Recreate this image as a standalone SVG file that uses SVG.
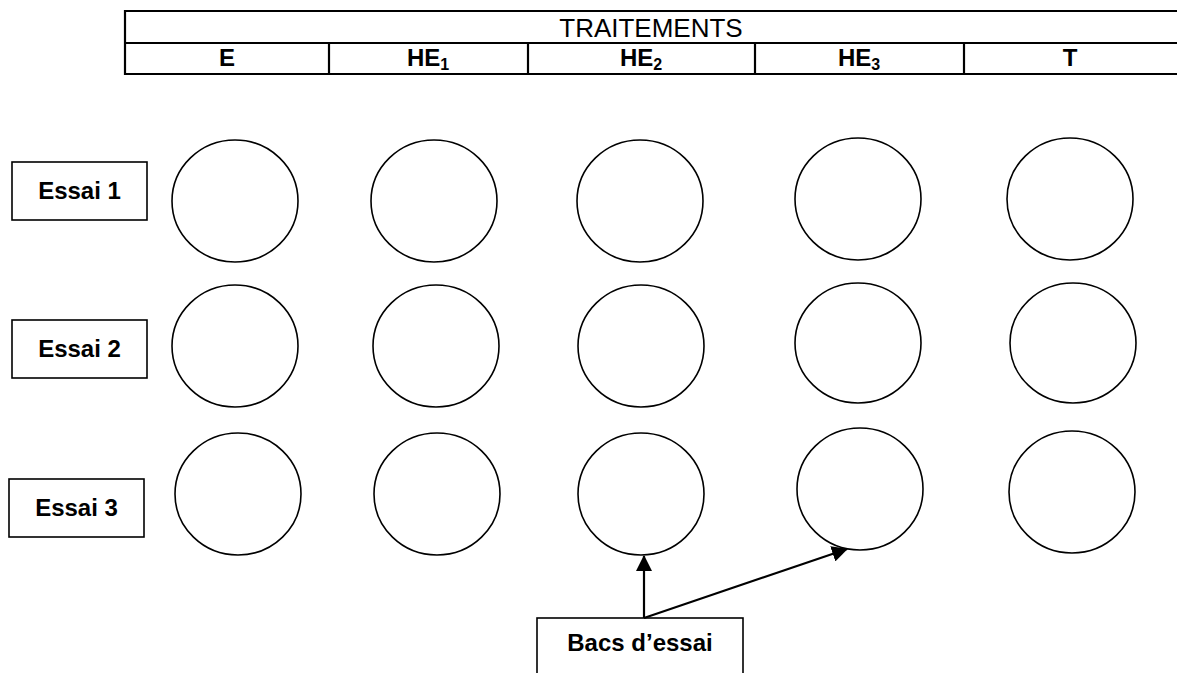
<svg xmlns="http://www.w3.org/2000/svg" width="1177" height="673" viewBox="0 0 1177 673">
<style>
text{font-family:"Liberation Sans",Arial,sans-serif;fill:#000}
.h{font-size:26px;text-anchor:middle}
.b{font-size:24px;font-weight:bold;text-anchor:middle}
.sub{font-size:16px}
.tl{stroke:#000;stroke-width:2.2;fill:none}
.c{fill:#fff;stroke:#000;stroke-width:1.6}
.bx{fill:#fff;stroke:#000;stroke-width:1.6}
.ar{stroke:#000;stroke-width:2.2;fill:none;marker-end:url(#ah)}
</style>
<defs>
<marker id="ah" markerUnits="userSpaceOnUse" markerWidth="17" markerHeight="16" refX="15" refY="8" orient="auto" viewBox="0 0 17 16">
<path d="M0,0 L16,8 L0,16 Z" fill="#000"/>
</marker>
</defs>
<g id="table">
<line class="tl" x1="124" y1="11" x2="1177" y2="11"/>
<line class="tl" x1="124" y1="43" x2="1177" y2="43"/>
<line class="tl" x1="124" y1="74" x2="1177" y2="74"/>
<line class="tl" x1="125" y1="10" x2="125" y2="75"/>
<line class="tl" x1="329" y1="43" x2="329" y2="74"/>
<line class="tl" x1="528" y1="43" x2="528" y2="74"/>
<line class="tl" x1="755" y1="43" x2="755" y2="74"/>
<line class="tl" x1="964" y1="43" x2="964" y2="74"/>
<text class="h" x="651" y="37">TRAITEMENTS</text>
<text class="b" x="227" y="66">E</text>
<text class="b" x="428" y="66">HE<tspan class="sub" dy="4">1</tspan></text>
<text class="b" x="641" y="66">HE<tspan class="sub" dy="4">2</tspan></text>
<text class="b" x="859" y="66">HE<tspan class="sub" dy="4">3</tspan></text>
<text class="b" x="1070" y="66">T</text>
</g>
<g id="essai1"><rect class="bx" x="12" y="162" width="135" height="58"/><text class="b" x="79.5" y="199">Essai 1</text></g>
<g id="essai2"><rect class="bx" x="12" y="320" width="135" height="58"/><text class="b" x="79.5" y="357">Essai 2</text></g>
<g id="essai3"><rect class="bx" x="9" y="479" width="135" height="58"/><text class="b" x="76.5" y="516">Essai 3</text></g>
<g id="row1">
<ellipse id="c11" class="c" cx="235" cy="201" rx="63" ry="61"/>
<ellipse id="c12" class="c" cx="434" cy="201" rx="63" ry="61"/>
<ellipse id="c13" class="c" cx="640" cy="201" rx="63" ry="61"/>
<ellipse id="c14" class="c" cx="858" cy="199" rx="63" ry="61"/>
<ellipse id="c15" class="c" cx="1070" cy="199" rx="63" ry="61"/>
</g>
<g id="row2">
<ellipse id="c21" class="c" cx="235" cy="346" rx="63" ry="61"/>
<ellipse id="c22" class="c" cx="436" cy="346" rx="63" ry="61"/>
<ellipse id="c23" class="c" cx="641" cy="346" rx="63" ry="61"/>
<ellipse id="c24" class="c" cx="858" cy="343" rx="63" ry="60"/>
<ellipse id="c25" class="c" cx="1073" cy="343" rx="63" ry="60"/>
</g>
<g id="row3">
<ellipse id="c31" class="c" cx="238" cy="494" rx="63" ry="61"/>
<ellipse id="c32" class="c" cx="437" cy="494" rx="63" ry="61"/>
<ellipse id="c33" class="c" cx="641" cy="494" rx="63" ry="61"/>
<ellipse id="c34" class="c" cx="860" cy="489" rx="63" ry="61"/>
<ellipse id="c35" class="c" cx="1072" cy="492" rx="63" ry="61"/>
</g>
<g id="bacs"><rect class="bx" x="537" y="618" width="206" height="70"/><text class="b" x="640" y="651">Bacs d’essai</text></g>
<g id="connectors">
<line class="ar" x1="644" y1="618" x2="644" y2="556"/>
<line class="ar" x1="644" y1="618" x2="847" y2="549"/>
</g>
</svg>
